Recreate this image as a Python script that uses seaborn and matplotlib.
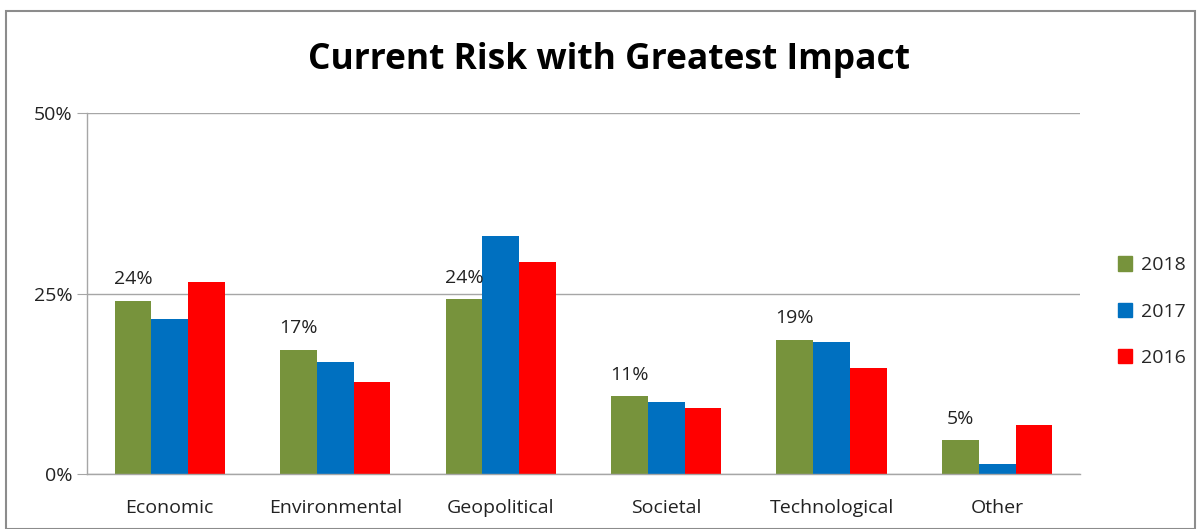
import matplotlib
matplotlib.use("Agg")
import matplotlib.pyplot as plt
import matplotlib.patches as mpatches
from matplotlib.ticker import FixedLocator, PercentFormatter
import pandas as pd
import seaborn as sns

# Data
categories = ["Economic", "Environmental", "Geopolitical", "Societal", "Technological", "Other"]
years = ["2018", "2017", "2016"]
vals_2018 = [24.0, 17.2, 24.2, 10.8, 18.6, 4.7]
vals_2017 = [21.5, 15.5, 33.0, 10.0, 18.3, 1.4]
vals_2016 = [26.6, 12.7, 29.4, 9.1, 14.7, 6.8]
labels_2018 = ["24%", "17%", "24%", "11%", "19%", "5%"]
colors = ["#77933C", "#0070C0", "#FF0000"]

df = pd.DataFrame({
    "category": categories * 3,
    "year": [y for y in years for _ in categories],
    "value": vals_2018 + vals_2017 + vals_2016,
})

sns.set_style("white")
plt.rcParams["font.family"] = ["Open Sans", "DejaVu Sans"]

fig = plt.figure(figsize=(12.01, 5.29), dpi=100)
ax = fig.add_axes([0.0724, 0.104, 0.8268, 0.682])

sns.barplot(data=df, x="category", y="value", hue="year", palette=colors,
            width=0.667, ax=ax, legend=False, saturation=1, linewidth=0)

ax.bar_label(ax.containers[0], labels=labels_2018, padding=9, fontsize=14, color="#222222")

ax.set_ylim(0, 50)
ax.set_xlim(-0.5, 5.5)
ax.set_yticks([0, 25, 50])
ax.yaxis.set_major_formatter(PercentFormatter(decimals=0))
ax.grid(axis="y", color="#A6A6A6", linewidth=1)
ax.set_axisbelow(True)
for s in ["top", "right"]:
    ax.spines[s].set_visible(False)
for s in ["left", "bottom"]:
    ax.spines[s].set_color("#A6A6A6")
    ax.spines[s].set_linewidth(1)

ax.tick_params(axis="x", which="major", length=0, labelsize=14, pad=18, labelcolor="#222222")
ax.xaxis.set_minor_locator(FixedLocator([i - 0.5 for i in range(7)]))
ax.tick_params(axis="x", which="minor", length=8, color="#A6A6A6", direction="out")
ax.tick_params(axis="y", length=7, color="#A6A6A6", direction="out", labelsize=14, labelcolor="#222222", left=True)
ax.set_xlabel("")
ax.set_ylabel("")

handles = [mpatches.Patch(color=c, label=y) for c, y in zip(colors, years)]
fig.legend(handles=handles, loc="center left", bbox_to_anchor=(0.916, 0.411), frameon=False,
           fontsize=14, handlelength=0.75, handleheight=0.75, handletextpad=0.45, labelspacing=1.45)

fig.text(0.507, 0.887, "Current Risk with Greatest Impact", ha="center", va="center",
         fontsize=25.5, fontweight="bold", color="#000000")

fig.add_artist(mpatches.Rectangle((0.005, 0.0), 0.99, 0.98, transform=fig.transFigure,
                                  fill=False, edgecolor="#8C8C8C", linewidth=1.5))

fig.savefig("out.png", dpi=100)
